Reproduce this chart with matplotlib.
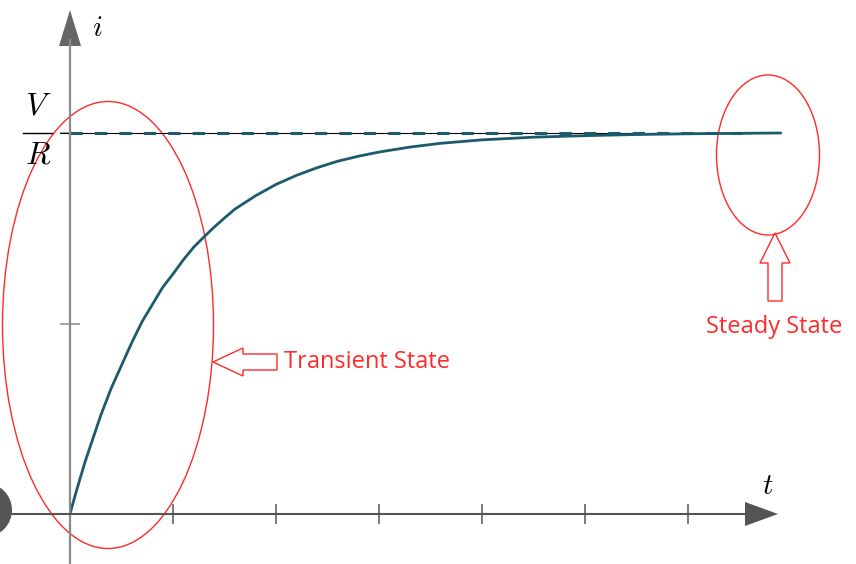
import numpy as np
import matplotlib
matplotlib.use("Agg")
import matplotlib.pyplot as plt
from matplotlib.patches import Ellipse, FancyArrow, Polygon

plt.rcParams['mathtext.fontset'] = 'cm'

# current rise i(t) (t in units of tau, i in units of V/R)
t_vals = [0, 0.05, 0.1, 0.15, 0.2, 0.3, 0.4, 0.5, 0.6, 0.7, 0.8, 0.9, 1.0,
          1.1, 1.2, 1.3, 1.4, 1.5, 1.6, 1.8, 2.0, 2.2, 2.4, 2.6, 2.8, 3.0,
          3.3, 3.6, 4.0, 4.5, 5.0, 5.5, 6.0, 6.9]
i_vals = [0, 0.049, 0.095, 0.14, 0.18, 0.26, 0.33, 0.39, 0.45, 0.505, 0.55,
          0.595, 0.63, 0.667, 0.70, 0.727, 0.753, 0.777, 0.80, 0.835, 0.865,
          0.889, 0.909, 0.926, 0.939, 0.95, 0.963, 0.973, 0.982, 0.989, 0.993,
          0.996, 0.998, 1.0]
steady_i = 1.0
x_ticks = [1, 2, 3, 4, 5, 6]
y_ticks = [0.5, 1.0]

TEAL = '#1c5a6d'
RED = '#ff2a2a'

# picture geometry: origin at pixel (70, 514), 103 px per tau, 381 px per V/R
X0, Y0, SX, SY = 70, 514, 103.0, 381.0


def px(x):
    return (x - X0) / SX


def py(y):
    return (Y0 - y) / SY


fig = plt.figure(figsize=(8.56, 5.64), dpi=100)
ax = fig.add_axes([0, 0, 1, 1])
ax.set_xlim(px(0), px(856))
ax.set_ylim(py(564), py(0))

# axes through the origin
for s in ['top', 'right']:
    ax.spines[s].set_visible(False)
ax.spines['bottom'].set_position(('data', 0))
ax.spines['left'].set_position(('data', 0))
ax.spines['bottom'].set_bounds(px(0), px(750))
ax.spines['left'].set_bounds(py(564), py(40))
ax.spines['bottom'].set_color('#555555')
ax.spines['left'].set_color('#8a8a8a')
ax.spines['bottom'].set_linewidth(1.5)
ax.spines['left'].set_linewidth(1.6)
ax.set_xticks(x_ticks)
ax.set_yticks(y_ticks)
ax.tick_params(axis='x', direction='inout', length=14, width=1.1, color='#555555',
               labelbottom=False)
ax.tick_params(axis='y', direction='inout', length=14, width=1.1, color='#8a8a8a',
               labelleft=False)

# arrow heads
ax.add_patch(Polygon([[px(745), py(502)], [px(778), py(514)], [px(745), py(526)]],
                     closed=True, color='#555555', lw=0))
ax.add_patch(Polygon([[px(59), py(46)], [px(70), py(10)], [px(81), py(46)]],
                     closed=True, color='#666666', lw=0))

# steady value and curve
ax.plot([px(60), px(745)], [steady_i, steady_i], color='black', lw=0.8)
ax.plot([0, px(745)], [steady_i, steady_i], color=TEAL, lw=2.2, dashes=(4, 4))
ax.plot(t_vals, i_vals, color=TEAL, lw=2.0, solid_capstyle='round')

# labels
ax.text(px(97), py(28), r'$i$', fontsize=21, ha='center', va='center')
ax.text(px(768), py(486), r'$t$', fontsize=21, ha='center', va='center')
ax.text(px(38), py(106), r'$V$', fontsize=23, ha='center', va='center')
ax.text(px(38), py(155), r'$R$', fontsize=23, ha='center', va='center')
ax.plot([px(23), px(52)], [py(133), py(133)], color='black', lw=1.0)

# red highlights
ax.add_patch(Ellipse((px(108), py(325)), 211 / SX, 447 / SY, fill=False,
                     ec=RED, lw=1.0))
ax.add_patch(Ellipse((px(768), py(155)), 103 / SX, 160 / SY, fill=False,
                     ec=RED, lw=1.0))
ax.add_patch(FancyArrow(px(277), py(362), -64 / SX, 0, width=16 / SY,
                        head_width=28 / SY, head_length=30 / SX,
                        length_includes_head=True, fill=False, ec=RED, lw=1.0))
ax.add_patch(FancyArrow(px(775), py(301), 0, 68 / SY, width=14 / SX,
                        head_width=30 / SX, head_length=30 / SY,
                        length_includes_head=True, fill=False, ec=RED, lw=1.0))
ax.text(px(284), py(362), 'Transient State', color=RED, fontsize=17,
        family='Open Sans', ha='left', va='center')
ax.text(px(774), py(327), 'Steady State', color=RED, fontsize=17,
        family='Open Sans', ha='center', va='center')

# dark blob at the left edge
ax.add_patch(Ellipse((px(-15), py(510)), 54 / SX, 54 / SY, color='#555555', lw=0))

fig.savefig('out.png', dpi=100)
